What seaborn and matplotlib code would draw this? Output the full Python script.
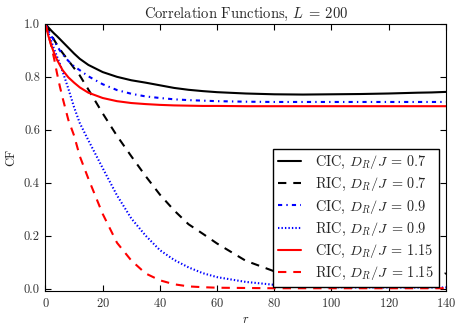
import numpy as np
import pandas as pd
import matplotlib
matplotlib.use("Agg")
import matplotlib.pyplot as plt
import seaborn as sns

# r grid shared by all curves
r = [0, 1, 2, 3, 4, 5, 6, 8, 10, 12, 15, 20, 25, 30, 35, 40, 45, 50, 55, 60,
     70, 80, 90, 100, 110, 120, 130, 135, 140]

cic_07 = [1.0, 0.987, 0.975, 0.964, 0.954, 0.943, 0.932, 0.91, 0.888, 0.868, 0.845, 0.818,
          0.80, 0.787, 0.778, 0.768, 0.758, 0.751, 0.746, 0.742, 0.737, 0.734, 0.733, 0.734,
          0.735, 0.737, 0.740, 0.741, 0.743]
ric_07 = [1.0, 0.98, 0.96, 0.94, 0.922, 0.905, 0.89, 0.862, 0.833, 0.805, 0.752, 0.662,
          0.577, 0.50, 0.425, 0.355, 0.295, 0.243, 0.207, 0.17, 0.105, 0.065, 0.035, 0.018,
          0.012, 0.012, 0.018, 0.028, 0.058]
cic_09 = [1.0, 0.975, 0.955, 0.937, 0.918, 0.90, 0.885, 0.86, 0.84, 0.825, 0.802, 0.772,
          0.75, 0.736, 0.726, 0.72, 0.715, 0.712, 0.71, 0.708, 0.706, 0.705, 0.705, 0.705,
          0.705, 0.705, 0.705, 0.705, 0.705]
ric_09 = [1.0, 0.967, 0.935, 0.905, 0.878, 0.85, 0.82, 0.755, 0.685, 0.625, 0.56, 0.455,
          0.352, 0.265, 0.20, 0.145, 0.108, 0.08, 0.058, 0.043, 0.025, 0.014, 0.008, 0.005,
          0.004, 0.004, 0.004, 0.004, 0.004]
cic_115 = [1.0, 0.955, 0.92, 0.89, 0.865, 0.845, 0.825, 0.798, 0.778, 0.76, 0.74, 0.72,
           0.708, 0.701, 0.697, 0.694, 0.692, 0.691, 0.69, 0.69, 0.689, 0.689, 0.689, 0.689,
           0.689, 0.689, 0.689, 0.689, 0.689]
ric_115 = [1.0, 0.96, 0.918, 0.87, 0.815, 0.765, 0.72, 0.637, 0.578, 0.50, 0.415, 0.282,
           0.173, 0.106, 0.057, 0.031, 0.016, 0.008, 0.005, 0.003, 0.002, 0.001, 0.001, 0.001,
           0.001, 0.001, 0.001, 0.001, 0.001]

series = [
    (r"CIC, $D_R/J\;=\,0.7$", cic_07, "k", "-"),
    (r"RIC, $D_R/J\;=\,0.7$", ric_07, "k", (0, (6, 5))),
    (r"CIC, $D_R/J\;=\,0.9$", cic_09, "b", (0, (3, 3, 1, 3))),
    (r"RIC, $D_R/J\;=\,0.9$", ric_09, "b", (0, (1, 1.5))),
    (r"CIC, $D_R/J\;=\,1.15$", cic_115, "r", "-"),
    (r"RIC, $D_R/J\;=\,1.15$", ric_115, "r", (0, (6, 5))),
]

sns.set_style("white", rc={
    "axes.edgecolor": "black",
    "axes.linewidth": 1.0,
    "xtick.direction": "in",
    "ytick.direction": "in",
    "xtick.top": True,
    "ytick.right": True,
    "xtick.bottom": True,
    "ytick.left": True,
})
plt.rcParams["font.family"] = "cmr10"
plt.rcParams["mathtext.fontset"] = "cm"
plt.rcParams["axes.formatter.use_mathtext"] = True
plt.rcParams["lines.scale_dashes"] = False

fig = plt.figure(figsize=(4.64, 3.32), dpi=100)
ax = fig.add_axes([0.098, 0.123, 0.863, 0.805])

for label, vals, col, ls in series:
    df = pd.DataFrame({"r": r, "CF": vals})
    sns.lineplot(data=df, x="r", y="CF", ax=ax, color=col, linestyle=ls,
                 linewidth=1.5, label=label)

ax.set_xlim(0, 140)
ax.set_ylim(-0.01, 1.0)
ax.set_xticks(np.arange(0, 141, 20))
ax.set_yticks(np.arange(0, 1.01, 0.2))
ax.set_yticklabels(["0.0", "0.2", "0.4", "0.6", "0.8", "1.0"])
ax.tick_params(axis="both", which="major", length=4, width=0.8, labelsize=9, pad=4,
               colors="black", labelcolor="#333333")
ax.set_xlabel("$r$", fontsize=9, labelpad=3)
ax.set_ylabel("CF", fontsize=9, labelpad=5)
ax.set_title(r"Correlation Functions, $L\;=\,200$", fontsize=10.5, pad=4)

leg = ax.legend(loc="lower right", bbox_to_anchor=(0.983, 0.015), borderaxespad=0,
                fontsize=10.3, handlelength=1.6, handletextpad=1.0, labelspacing=0.36,
                borderpad=0.35, fancybox=False, framealpha=1, edgecolor="black")
leg.get_frame().set_linewidth(1.0)

fig.savefig("out.png", dpi=100)
